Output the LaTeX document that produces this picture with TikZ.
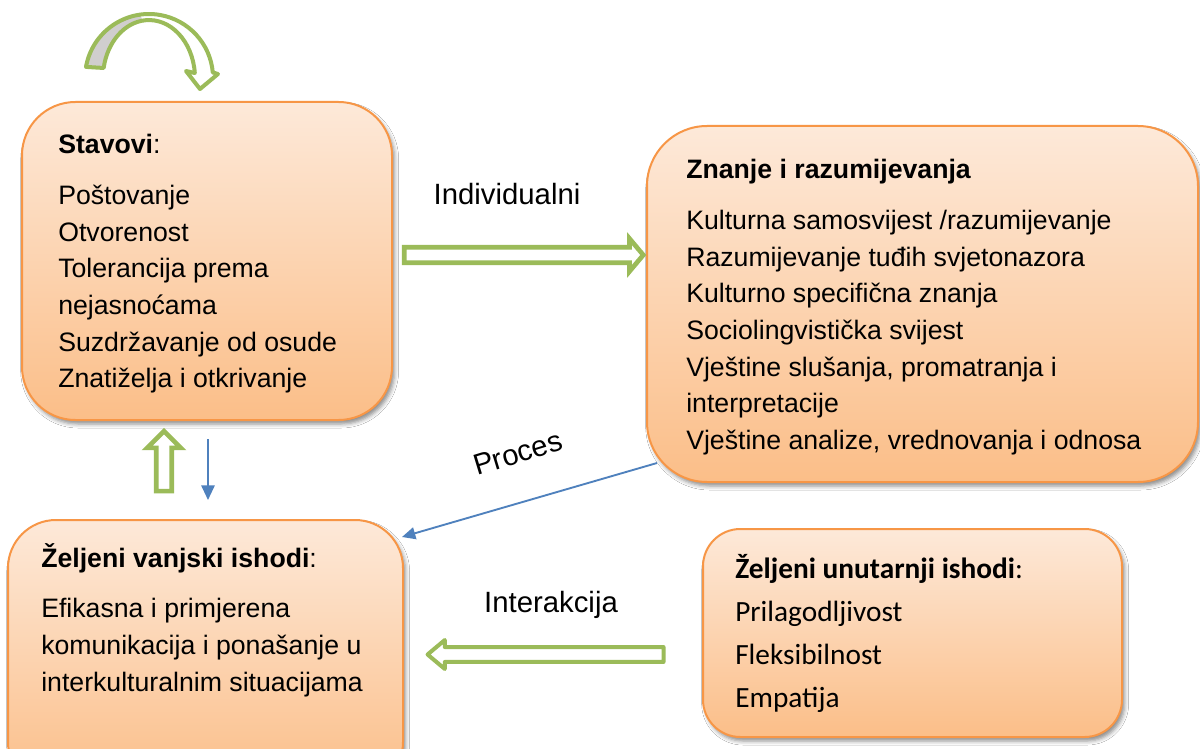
\documentclass[tikz,border=0pt]{standalone}
\usepackage{fontspec}
\setmainfont{Liberation Sans}
\newfontfamily\carlito{Carlito}
\usetikzlibrary{arrows.meta,fit,shadows.blur,calc,shapes.arrows}
\definecolor{boxtop}{HTML}{FDE9D9}
\definecolor{boxbot}{HTML}{FBBE88}
\definecolor{boxline}{HTML}{F79646}
\definecolor{agreen}{HTML}{9BBB59}
\definecolor{ablue}{HTML}{4F81BD}
\definecolor{agray}{HTML}{D0CECE}
\newcommand\tstrut{\rule{0pt}{24pt}}
\tikzset{
 box/.style={draw=boxline, line width=1.5pt, top color=boxtop, bottom color=boxbot, inner sep=0pt,
   blur shadow={shadow xshift=2pt, shadow yshift=-3pt, shadow blur radius=3pt, shadow opacity=45}},
 txt/.style={anchor=north west, inner sep=0pt, align=left, font=\fontsize{20}{27.5}\selectfont},
 ctxt/.style={anchor=north west, inner sep=0pt, align=left, font=\carlito\fontsize{22}{32.25}\selectfont},
 lbl/.style={inner sep=0pt, font=\fontsize{22}{26}\selectfont},
 blockarrow/.style={single arrow, draw=agreen, fill=white, line width=3.5pt, line join=miter, inner sep=4.1pt, outer sep=0pt},
 thinarrow/.style={draw=ablue, line width=1.4pt, -{Triangle[length=11pt,width=10pt]}},
 curvefill/.style={fill=white},
 curveline/.style={draw=agreen, line width=3pt, line join=round},
}
\begin{document}
\begin{tikzpicture}[x=0.75pt,y=-0.75pt]
\useasboundingbox (0,0) rectangle (1200,749);
\fill[white] (0,0) rectangle (1200,749);
\clip (0,0) rectangle (1200,749);

% boxes
\coordinate (s1) at (22,102);  \coordinate (s2) at (392,420);
\coordinate (z1) at (647,126); \coordinate (z2) at (1198,482);
\coordinate (v1) at (8,520);   \coordinate (v2) at (403,790);
\coordinate (u1) at (703,529); \coordinate (u2) at (1122,737);
\node[box, rounded corners=40pt, fit=(s1)(s2)] (stav) {};
\node[box, rounded corners=45pt, fit=(z1)(z2)] (znanje) {};
\node[box, rounded corners=36pt, fit=(v1)(v2)] (vanj) {};
\node[box, rounded corners=28pt, fit=(u1)(u2)] (unut) {};

% texts
\node[txt] (stavtxt) at (58,121) {\tstrut\textbf{Stavovi}:\\[11pt]
Poštovanje\\ Otvorenost\\ Tolerancija prema\\ nejasnoćama\\ Suzdržavanje od osude\\ Znatiželja i otkrivanje};
\node[txt] (znantxt) at (686,146) {\tstrut\textbf{Znanje i razumijevanja}\\[11pt]
Kulturna samosvijest /razumijevanje\\ Razumijevanje tuđih svjetonazora\\ Kulturno specifična znanja\\ Sociolingvistička svijest\\ Vještine slušanja, promatranja i\\ interpretacije\\ Vještine analize, vrednovanja i odnosa};
\node[txt] (vanjtxt) at (41,535) {\tstrut\textbf{Željeni vanjski ishodi}:\\[10.5pt]
Efikasna i primjerena\\ komunikacija i ponašanje u\\ interkulturalnim situacijama};
\node[ctxt] (unuttxt) at (735,546) {\tstrut\textbf{Željeni unutarnji ishodi}:\\
Prilagodljivost\\ Fleksibilnost\\ Empatija};

% labels
\node[lbl, anchor=base] (lind) at (507,204) {Individualni};
\node[lbl, anchor=base] (lint) at (551,612) {Interakcija};
\node[lbl, rotate=17] (lpro) at (518,453) {Proces};

% green block arrows
\node[blockarrow, minimum height=179.25pt, single arrow head extend=6.4pt, single arrow tip angle=100] (aind) at (520.5,255) {};
\node[blockarrow, line width=3pt, line join=round, minimum height=177pt, single arrow head extend=5.25pt, single arrow tip angle=80, rotate=180] (aint) at (550,654.5) {};
\node[blockarrow, minimum height=45pt, single arrow head extend=6.75pt, single arrow tip angle=90, rotate=90] (aup) at (164,465) {};

% blue arrows
\draw[thinarrow] ($(stav.south)+(1,18)$) -- ($(stav.south)+(1,79)$);
\draw[thinarrow, -{Triangle[length=10pt,width=9pt]}] ($(znanje.south west)+(11,-20)$) -- ($(vanj.north east)+(-2,18)$);

% curved arrow above Stavovi
\path[curvefill] (86,66.9) arc[start angle=190, end angle=355, x radius=64, y radius=64]
  -- (218,74) -- (200,89) -- (186,71) -- (194.8,73)
  arc[start angle=355, end angle=190, x radius=46, y radius=58] -- cycle;
\fill[agray] (86,66.9) arc[start angle=190, end angle=262, x radius=64, y radius=64]
  -- (142.6,20.6) arc[start angle=262, end angle=190, x radius=46, y radius=58] -- cycle;
\draw[curveline] (86,66.9) arc[start angle=190, end angle=355, x radius=64, y radius=64]
  -- (218,74) -- (200,89) -- (186,71) -- (194.8,73)
  arc[start angle=355, end angle=190, x radius=46, y radius=58] -- cycle;
\end{tikzpicture}
\end{document}
